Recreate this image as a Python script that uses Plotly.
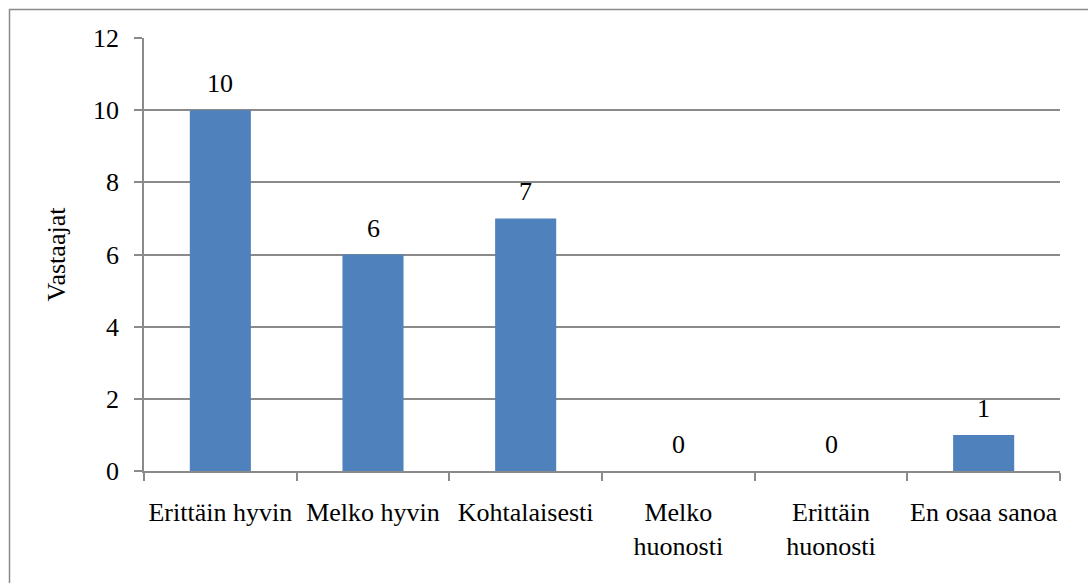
import plotly.graph_objects as go

# Survey answers and respondent counts
categories = ["Erittäin hyvin", "Melko hyvin", "Kohtalaisesti",
              "Melko<br>huonosti", "Erittäin<br>huonosti", "En osaa sanoa"]
counts = [10, 6, 7, 0, 0, 1]
y_ticks = [0, 2, 4, 6, 8, 10, 12]

W, H = 1088, 583
L, R, T, B = 144, 28, 38, 112
pw, ph = W - L - R, H - T - B

font = dict(family="Liberation Serif", size=26, color="#000000")
grey = "#8a8a8a"

fig = go.Figure(go.Bar(
    x=categories,
    y=counts,
    marker=dict(color="#4F81BD", line=dict(width=0)),
    cliponaxis=False,
    width=0.4,
))

# value labels above each bar
for cat, v in zip(categories, counts):
    fig.add_annotation(x=cat, y=v, text=str(v), showarrow=False,
                       xanchor="center", yanchor="bottom", yshift=10, font=font)

# chart frame around the whole figure
fig.add_shape(type="rect", xref="paper", yref="paper",
              x0=(9.5 - L) / pw, x1=(W + 20 - L) / pw,
              y0=(H - B - (H + 20)) / ph, y1=(H - B - 9.5) / ph,
              line=dict(color=grey, width=1.5), fillcolor="rgba(0,0,0,0)", layer="below")

fig.update_layout(
    width=W, height=H,
    margin=dict(l=L, r=R, t=T, b=B, autoexpand=False),
    paper_bgcolor="white", plot_bgcolor="white",
    font=font,
    showlegend=False,
    xaxis=dict(
        showline=True, linecolor=grey, linewidth=1.5,
        ticks="outside", tickson="boundaries", ticklen=8, tickcolor=grey, tickwidth=1.5,
        showgrid=False, tickfont=font, tickangle=0, automargin=False,
        ticklabelstandoff=17,
    ),
    yaxis=dict(
        range=[0, 12], tickvals=y_ticks,
        showline=True, linecolor=grey, linewidth=1.5,
        ticks="outside", ticklen=8, tickcolor=grey, tickwidth=1.5,
        showgrid=True, gridcolor=grey, gridwidth=1.5,
        zeroline=False, tickfont=font, automargin=False,
        ticklabelstandoff=10,
        title=dict(text="Vastaajat", font=font, standoff=20),
    ),
)

fig.write_html("out.html")
